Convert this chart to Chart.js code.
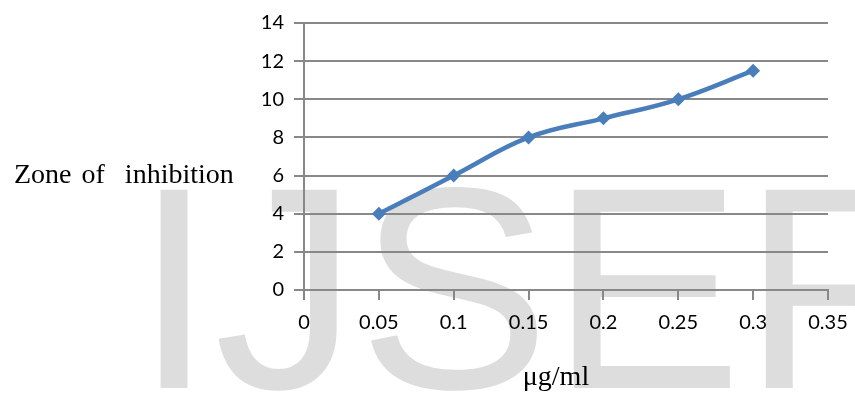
<!DOCTYPE html>
<html>
<head>
<meta charset="utf-8">
<script src="https://cdn.jsdelivr.net/npm/chart.js@4/dist/chart.umd.min.js"></script>
<style>
  html, body { margin: 0; padding: 0; background: #fff; }
  #wrap { width: 855px; height: 396px; position: relative; }
</style>
</head>
<body>
<div id="wrap"><canvas id="c" width="855" height="396"></canvas></div>
<script>
// Concentration (µg/ml) and zone of inhibition readings
const concentrations = [0.05, 0.1, 0.15, 0.2, 0.25, 0.3];
const inhibitionZone = [4, 6, 8, 9, 10, 11.5];
const xTickValues = [0, 0.05, 0.1, 0.15, 0.2, 0.25, 0.3, 0.35];
const yTickValues = [0, 2, 4, 6, 8, 10, 12, 14];
const yAxisTitle = 'Zone of  inhibition';
const xAxisTitle = 'μg/ml';
const watermarkText = 'IJSER';

// Large grey watermark behind the grid
const watermark = {
  id: 'watermark',
  beforeDraw(chart) {
    const ctx = chart.ctx;
    ctx.save();
    ctx.fillStyle = '#dddddd';
    ctx.font = '288px "Liberation Sans"';
    ctx.textBaseline = 'alphabetic';
    ctx.textAlign = 'left';
    ctx.fillText(watermarkText, 134, 388);
    ctx.restore();
  }
};

// Horizontal axis captions in serif type
const captions = {
  id: 'captions',
  afterDraw(chart) {
    const ctx = chart.ctx;
    ctx.save();
    ctx.fillStyle = '#000';
    ctx.textBaseline = 'alphabetic';
    ctx.textAlign = 'left';
    ctx.font = '28px "Liberation Serif"';
    if ('wordSpacing' in ctx) ctx.wordSpacing = '3px';
    ctx.fillText(yAxisTitle, 14, 183);
    if ('wordSpacing' in ctx) ctx.wordSpacing = '0px';
    ctx.textAlign = 'center';
    ctx.fillText(xAxisTitle, 556, 385);
    ctx.restore();
  }
};

const fmt = v => String(parseFloat(Number(v).toFixed(2)));

new Chart(document.getElementById('c'), {
  type: 'line',
  data: {
    datasets: [{
      data: concentrations.map((x, i) => ({ x, y: inhibitionZone[i] })),
      borderColor: '#4a7ebb',
      backgroundColor: '#4a7ebb',
      borderWidth: 4.5,
      tension: 0.4,
      pointStyle: 'rectRot',
      pointRadius: 7,
      pointHoverRadius: 7,
      pointBorderWidth: 0,
      fill: false
    }]
  },
  options: {
    responsive: false,
    animation: false,
    events: [],
    layout: { padding: { left: 0, right: 27, top: 23, bottom: 0 } },
    plugins: { legend: { display: false }, tooltip: { enabled: false } },
    scales: {
      x: {
        type: 'linear',
        min: 0, max: 0.35,
        afterBuildTicks(scale) { scale.ticks = xTickValues.map(v => ({ value: v })); },
        afterFit(scale) {
          scale.height = 106;
          scale.paddingLeft = 0;
          scale.paddingRight = 0;
        },
        ticks: {
          callback: v => fmt(v),
          color: '#000',
          font: { family: 'Lato', size: 20 },
          padding: 11,
          maxRotation: 0,
          autoSkip: false
        },
        grid: {
          drawOnChartArea: false,
          drawTicks: true,
          tickLength: 10,
          color: '#888',
          lineWidth: 2
        },
        border: { display: true, color: '#888', width: 2 }
      },
      y: {
        min: 0, max: 14,
        afterBuildTicks(scale) { scale.ticks = yTickValues.map(v => ({ value: v })); },
        afterFit(scale) {
          scale.width = 304;
          scale.paddingTop = 0;
          scale.paddingBottom = 0;
        },
        ticks: {
          callback: v => fmt(v),
          color: '#000',
          font: { family: 'Lato', size: 20 },
          padding: 10
        },
        grid: {
          color: '#888',
          lineWidth: 2,
          tickLength: 10
        },
        border: { display: true, color: '#888', width: 2 }
      }
    }
  },
  plugins: [watermark, captions]
});
</script>
</body>
</html>
